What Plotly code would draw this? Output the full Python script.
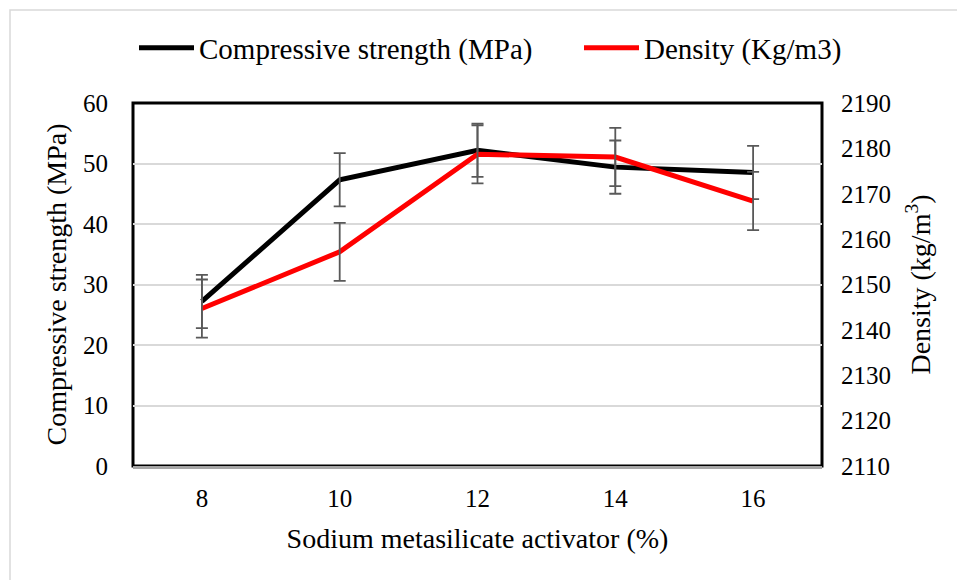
import plotly.graph_objects as go

categories = ["8", "10", "12", "14", "16"]
strength = [27.2, 47.3, 52.2, 49.4, 48.5]
strength_err = [4.4, 4.4, 4.4, 4.4, 4.4]
density = [2144.7, 2157.2, 2178.7, 2178.1, 2168.4]
density_err = [6.4, 6.4, 6.4, 6.4, 6.4]

FONT = "Liberation Serif, DejaVu Serif, serif"
ERR_COLOR = "#595959"

fig = go.Figure()
fig.add_trace(go.Scatter(
    x=categories, y=strength, mode="lines", name="Compressive strength (MPa)",
    line=dict(color="black", width=5), yaxis="y", legend="legend"))
fig.add_trace(go.Scatter(
    x=categories, y=density, mode="lines", name="Density (Kg/m3)",
    line=dict(color="#ff0000", width=5), yaxis="y2", legend="legend2"))
# error bars drawn on top of the lines
fig.add_trace(go.Scatter(
    x=categories, y=strength, mode="markers", showlegend=False, hoverinfo="skip",
    marker=dict(size=1, color="rgba(0,0,0,0)"), yaxis="y",
    error_y=dict(type="data", array=strength_err, color=ERR_COLOR, thickness=1.8, width=6)))
fig.add_trace(go.Scatter(
    x=categories, y=density, mode="markers", showlegend=False, hoverinfo="skip",
    marker=dict(size=1, color="rgba(0,0,0,0)"), yaxis="y2",
    error_y=dict(type="data", array=density_err, color=ERR_COLOR, thickness=1.8, width=6)))

L, R, T, B = 133, 135, 103, 114
W, H = 957, 580
pw, ph = W - L - R, H - T - B

def px_x(px):
    return (px - L) / pw

def px_y(py):
    return (H - B - py) / ph

leg_common = dict(orientation="h", xanchor="left", yanchor="middle", y=px_y(48),
                  font=dict(family=FONT, size=29), itemwidth=55,
                  bgcolor="rgba(0,0,0,0)")

fig.update_layout(
    width=W, height=H,
    margin=dict(l=L, r=R, t=T, b=B),
    paper_bgcolor="white", plot_bgcolor="white",
    font=dict(family=FONT, size=25, color="black"),
    showlegend=True,
    legend=dict(x=px_x(134), **leg_common),
    legend2=dict(x=px_x(579), **leg_common),
    xaxis=dict(type="category", range=[-0.5, 4.5], showgrid=False,
               showline=True, linecolor="#a6a6a6", linewidth=3,
               ticks="", tickfont=dict(family=FONT, size=25), ticklabelstandoff=8,
               title=dict(text="Sodium metasilicate activator (%)",
                          font=dict(family=FONT, size=28), standoff=18)),
    yaxis=dict(range=[0, 60], dtick=10, showgrid=True, gridcolor="#d9d9d9", gridwidth=1.5,
               zeroline=False, showline=False, ticks="", tickfont=dict(family=FONT, size=25),
               ticklabelstandoff=24,
               title=dict(text="Compressive strength (MPa)",
                          font=dict(family=FONT, size=28), standoff=8)),
    yaxis2=dict(range=[2110, 2190], dtick=10, overlaying="y", side="right", showgrid=False,
                zeroline=False, showline=False, ticks="", tickfont=dict(family=FONT, size=25),
                ticklabelstandoff=18,
                title=dict(text="Density (kg/m<sup>3</sup>)",
                           font=dict(family=FONT, size=28), standoff=20)),
    shapes=[
        dict(type="rect", xref="paper", yref="paper", x0=px_x(10), x1=px_x(1100),
             y0=px_y(800), y1=px_y(10), line=dict(color="#d9d9d9", width=1.5), layer="below"),
        dict(type="rect", xref="paper", yref="paper", x0=0, x1=1, y0=0, y1=1,
             line=dict(color="black", width=3), layer="below"),
    ],
)

fig.write_html("out.html")
